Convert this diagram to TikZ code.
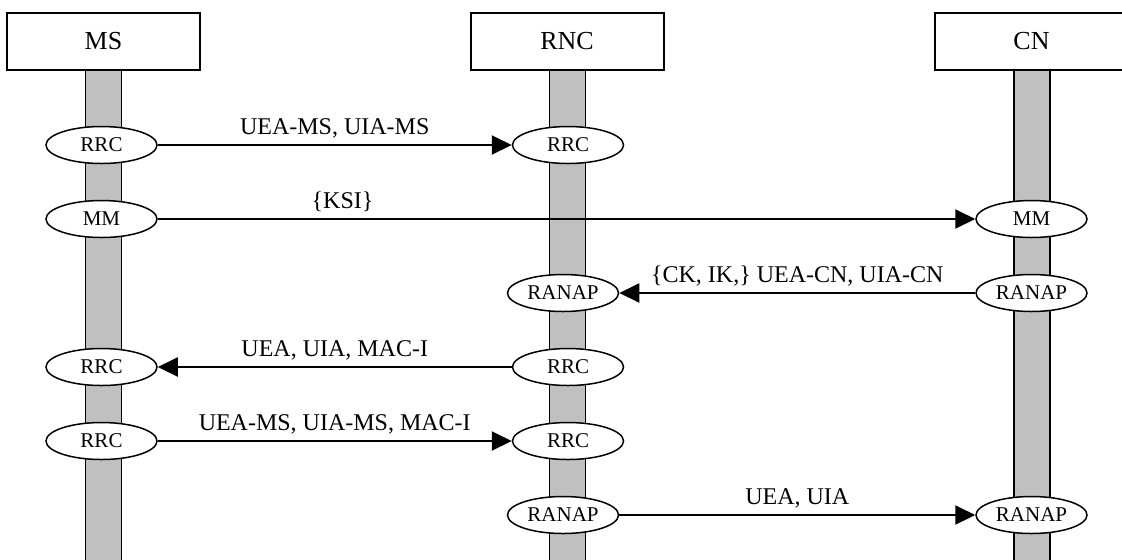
\documentclass[tikz,border=0pt]{standalone}
\usepackage{fontspec}
\setmainfont{Liberation Serif}
\usepackage{xcolor}
\usetikzlibrary{arrows.meta}
\usetikzlibrary{shapes.geometric}
\definecolor{lifegray}{RGB}{192,192,192}
\tikzset{
    actor/.style={
        draw,
        rectangle,
        fill=white,
        line width=1pt,
        minimum width=96.5pt,
        minimum height=28.5pt,
        font=\fontsize{13}{15}\selectfont
    },
    lifeline/.style={
        draw,
        fill=lifegray,
        line width=0.75pt
    },
    proto/.style={
        draw,
        ellipse,
        fill=white,
        line width=0.75pt,
        minimum width=55.5pt,
        minimum height=18.5pt,
        inner sep=0pt,
        font=\fontsize{10.5}{12}\selectfont
    },
    msg/.style={
        draw,
        line width=1pt,
        -{Triangle[length=10pt, width=9.5pt]}
    },
    msglabel/.style={
        anchor=base,
        yshift=5.5pt,
        font=\fontsize{12}{14}\selectfont
    }
}

\begin{document}
\begin{tikzpicture}[x=0.5pt, y=-0.5pt]
    \useasboundingbox (0,0) rectangle (1122,559);
    \clip (0,0) rectangle (1122,559);

    % lifelines
    \foreach \x in {103.5,567.5,1032}
        \draw[lifeline] (\x-18,70) rectangle (\x+18,575);

    % entities
    \node[actor] (ms)  at (103.5,41.5)  {MS};
    \node[actor] (rnc) at (567,41.5)    {RNC};
    \node[actor] (cn)  at (1031.5,41.5) {CN};

    % protocol layers
    \node[proto] (msA)  at (101.5,145)  {RRC};
    \node[proto] (rncA) at (568,145)    {RRC};
    \node[proto] (msB)  at (101.5,219)  {MM};
    \node[proto] (cnB)  at (1031.5,219) {MM};
    \node[proto] (rncC) at (563,293)    {RANAP};
    \node[proto] (cnC)  at (1031.5,293) {RANAP};
    \node[proto] (msD)  at (101.5,367)  {RRC};
    \node[proto] (rncD) at (568,367)    {RRC};
    \node[proto] (msE)  at (101.5,441)  {RRC};
    \node[proto] (rncE) at (568,441)    {RRC};
    \node[proto] (rncF) at (563,515)    {RANAP};
    \node[proto] (cnF)  at (1031.5,515) {RANAP};

    % messages
    \draw[msg] (msA) -- node[msglabel] {UEA-MS, UIA-MS} (rncA);
    \draw[msg] (msB) -- node[msglabel, pos=0.226] {\{KSI\}} (cnB);
    \draw[msg] (cnC) -- node[msglabel] {\{CK, IK,\} UEA-CN, UIA-CN} (rncC);
    \draw[msg] (rncD) -- node[msglabel] {UEA, UIA, MAC-I} (msD);
    \draw[msg] (msE) -- node[msglabel] {UEA-MS, UIA-MS, MAC-I} (rncE);
    \draw[msg] (rncF) -- node[msglabel] {UEA, UIA} (cnF);
\end{tikzpicture}
\end{document}
